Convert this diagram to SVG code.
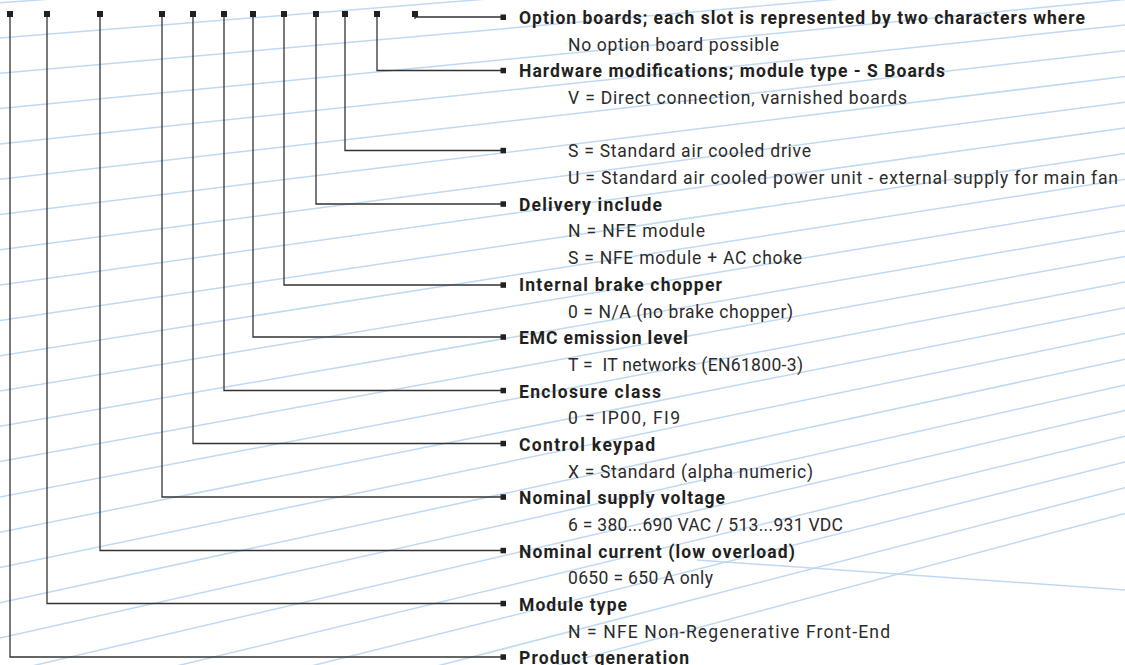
<svg xmlns="http://www.w3.org/2000/svg" width="1125" height="665" viewBox="0 0 1125 665">
<style>
.bg{stroke:#c0d9f2;stroke-width:1.5;fill:none}
.conn{stroke:#333;stroke-width:1.3;fill:none}
.sq{fill:#231f20}
.lbl{font-family:Roboto,"Liberation Sans",Arial,sans-serif;font-size:17.5px;font-weight:700;fill:#231f20}
.val{font-family:Roboto,"Liberation Sans",Arial,sans-serif;font-size:17.5px;font-weight:400;fill:#2b2b2b}
</style>
<rect width="1125" height="665" fill="#fff"/>
<g id="background">
<line class="bg" x1="0" y1="2.7" x2="1125" y2="-77.7"/>
<line class="bg" x1="0" y1="38" x2="1125" y2="-52"/>
<line class="bg" x1="0" y1="73.3" x2="1125" y2="-26.3"/>
<line class="bg" x1="0" y1="108.6" x2="1125" y2="-0.6"/>
<line class="bg" x1="0" y1="143.9" x2="1125" y2="25.1"/>
<line class="bg" x1="0" y1="179.2" x2="1125" y2="50.8"/>
<line class="bg" x1="0" y1="214.5" x2="1125" y2="76.5"/>
<line class="bg" x1="0" y1="249.8" x2="1125" y2="102.2"/>
<line class="bg" x1="0" y1="285.1" x2="1125" y2="127.9"/>
<line class="bg" x1="0" y1="320.4" x2="1125" y2="153.6"/>
<line class="bg" x1="0" y1="355.7" x2="1125" y2="179.3"/>
<line class="bg" x1="0" y1="391" x2="1125" y2="205"/>
<line class="bg" x1="0" y1="426.3" x2="1125" y2="230.7"/>
<line class="bg" x1="0" y1="461.6" x2="1125" y2="256.4"/>
<line class="bg" x1="0" y1="496.9" x2="1125" y2="282.1"/>
<line class="bg" x1="0" y1="532.2" x2="1125" y2="307.8"/>
<line class="bg" x1="0" y1="567.5" x2="1125" y2="333.5"/>
<line class="bg" x1="0" y1="602.8" x2="1125" y2="359.2"/>
<line class="bg" x1="0" y1="638.1" x2="1125" y2="384.9"/>
<line class="bg" x1="0" y1="673.4" x2="1125" y2="410.6"/>
<line class="bg" x1="0" y1="708.7" x2="1125" y2="436.3"/>
<line class="bg" x1="0" y1="744" x2="1125" y2="462"/>
<line class="bg" x1="0" y1="779.3" x2="1125" y2="487.7"/>
<line class="bg" x1="0" y1="814.6" x2="1125" y2="513.4"/>
<line class="bg" x1="697" y1="560" x2="1125" y2="590"/>
</g>
<g id="connectors">
<path class="conn" d="M415 14V19M415 17H501"/>
<path class="conn" d="M377 14V70.5H501"/>
<path class="conn" d="M345 14V150.5H501"/>
<path class="conn" d="M316 14V204H501"/>
<path class="conn" d="M284 14V285H501"/>
<path class="conn" d="M253 14V337H501"/>
<path class="conn" d="M224 14V390.5H501"/>
<path class="conn" d="M193 14V443.5H501"/>
<path class="conn" d="M162 14V497H501"/>
<path class="conn" d="M100 14V550.5H501"/>
<path class="conn" d="M47 14V603.5H501"/>
<path class="conn" d="M10 14V657H501"/>
</g>
<g id="field-option-boards">
<rect class="sq" x="412" y="11" width="6" height="6"/>
<rect class="sq" x="500.5" y="14.5" width="5.5" height="5.5"/>
<text class="lbl" x="519" y="24" textLength="566">Option boards; each slot is represented by two characters where</text>
<text class="val" x="568" y="50.7" textLength="211">No option board possible</text>
</g>
<g id="field-hardware-modifications">
<rect class="sq" x="374" y="11" width="6" height="6"/>
<rect class="sq" x="500.5" y="67.8" width="5.5" height="5.5"/>
<text class="lbl" x="519" y="77.4" textLength="426">Hardware modifications; module type - S Boards</text>
<text class="val" x="568" y="104" textLength="339">V = Direct connection, varnished boards</text>
</g>
<g id="field-cooling">
<rect class="sq" x="342" y="11" width="6" height="6"/>
<rect class="sq" x="500.5" y="147.8" width="5.5" height="5.5"/>
<text class="val" x="568" y="157.4" textLength="243">S = Standard air cooled drive</text>
<text class="val" x="568" y="184.1" textLength="550">U = Standard air cooled power unit - external supply for main fan</text>
</g>
<g id="field-delivery-include">
<rect class="sq" x="313" y="11" width="6" height="6"/>
<rect class="sq" x="500.5" y="201.3" width="5.5" height="5.5"/>
<text class="lbl" x="519" y="210.8" textLength="143">Delivery include</text>
<text class="val" x="568" y="237.4" textLength="137">N = NFE module</text>
<text class="val" x="568" y="264.1" textLength="234">S = NFE module + AC choke</text>
</g>
<g id="field-brake-chopper">
<rect class="sq" x="281" y="11" width="6" height="6"/>
<rect class="sq" x="500.5" y="282.3" width="5.5" height="5.5"/>
<text class="lbl" x="519" y="290.8" textLength="203">Internal brake chopper</text>
<text class="val" x="568" y="317.5" textLength="225">0 = N/A (no brake chopper)</text>
</g>
<g id="field-emc">
<rect class="sq" x="250" y="11" width="6" height="6"/>
<rect class="sq" x="500.5" y="334.3" width="5.5" height="5.5"/>
<text class="lbl" x="519" y="344.2" textLength="169">EMC emission level</text>
<text class="val" x="568" y="370.8" textLength="235" xml:space="preserve">T =  IT networks (EN61800-3)</text>
</g>
<g id="field-enclosure">
<rect class="sq" x="221" y="11" width="6" height="6"/>
<rect class="sq" x="500.5" y="387.8" width="5.5" height="5.5"/>
<text class="lbl" x="519" y="397.5" textLength="142">Enclosure class</text>
<text class="val" x="568" y="424.2" textLength="112">0 = IP00, FI9</text>
</g>
<g id="field-keypad">
<rect class="sq" x="190" y="11" width="6" height="6"/>
<rect class="sq" x="500.5" y="440.8" width="5.5" height="5.5"/>
<text class="lbl" x="519" y="450.9" textLength="136">Control keypad</text>
<text class="val" x="568" y="477.6" textLength="245">X = Standard (alpha numeric)</text>
</g>
<g id="field-supply-voltage">
<rect class="sq" x="159" y="11" width="6" height="6"/>
<rect class="sq" x="500.5" y="494.3" width="5.5" height="5.5"/>
<text class="lbl" x="519" y="504.2" textLength="206">Nominal supply voltage</text>
<text class="val" x="568" y="530.9" textLength="275">6 = 380...690 VAC / 513...931 VDC</text>
</g>
<g id="field-nominal-current">
<rect class="sq" x="97" y="11" width="6" height="6"/>
<rect class="sq" x="500.5" y="547.8" width="5.5" height="5.5"/>
<text class="lbl" x="519" y="557.6" textLength="276">Nominal current (low overload)</text>
<text class="val" x="568" y="584.3" textLength="145">0650 = 650 A only</text>
</g>
<g id="field-module-type">
<rect class="sq" x="44" y="11" width="6" height="6"/>
<rect class="sq" x="500.5" y="600.8" width="5.5" height="5.5"/>
<text class="lbl" x="519" y="611" textLength="108">Module type</text>
<text class="val" x="568" y="637.6" textLength="322">N = NFE Non-Regenerative Front-End</text>
</g>
<g id="field-product-generation">
<rect class="sq" x="7" y="11" width="6" height="6"/>
<rect class="sq" x="500.5" y="654.3" width="5.5" height="5.5"/>
<text class="lbl" x="519" y="664.3" textLength="170">Product generation</text>
</g>
</svg>
